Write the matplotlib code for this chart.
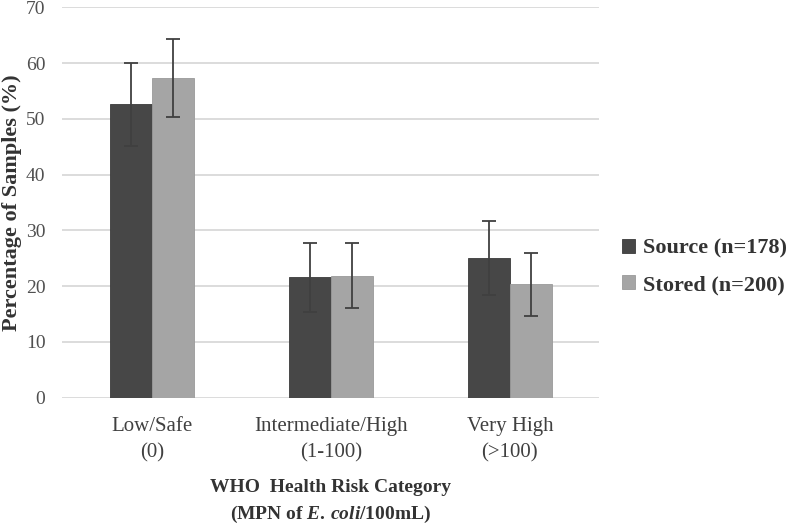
import numpy as np
import matplotlib
matplotlib.use("Agg")
import matplotlib.pyplot as plt

categories = ["Low/Safe\n(0)", "Intermediate/High\n(1-100)", "Very High\n(>100)"]
source_vals = [52.6, 21.6, 25.0]
source_err = [7.4, 6.2, 6.6]
stored_vals = [57.3, 21.9, 20.3]
stored_err = [7.0, 5.8, 5.6]
series_labels = ["Source (n=178)", "Stored (n=200)"]

plt.rcParams['font.family'] = ['Liberation Serif', 'DejaVu Serif']
plt.rcParams['mathtext.fontset'] = 'custom'
plt.rcParams['mathtext.rm'] = 'Liberation Serif:bold'
plt.rcParams['mathtext.it'] = 'Liberation Serif:bold:italic'

fig = plt.figure(figsize=(7.97, 5.25), dpi=100)
ax = fig.add_axes([0.078, 0.2425, 0.674, 0.7435])

x = np.arange(len(categories))
w = 0.235
err_kw = dict(ecolor='#404040', elinewidth=1.3, capsize=5, capthick=1.3)
ax.bar(x - w / 2, source_vals, w, yerr=source_err, color='#474747',
       edgecolor='#3a3a3a', linewidth=0.6, label=series_labels[0], error_kw=err_kw, zorder=3)
ax.bar(x + w / 2, stored_vals, w, yerr=stored_err, color='#a5a5a5',
       edgecolor='#9a9a9a', linewidth=0.6, label=series_labels[1], error_kw=err_kw, zorder=3)

ax.set_xlim(-0.5, 2.5)
ax.set_ylim(0, 70)
ax.set_yticks(range(0, 71, 10))
ax.set_xticks(x)
ax.set_xticklabels(categories, fontsize=15, color='#404040', linespacing=1.5)
ax.tick_params(axis='y', labelsize=14, labelcolor='#505050', length=0, pad=12)
ax.tick_params(axis='x', length=0, pad=14)
ax.grid(axis='y', color='#d9d9d9', linewidth=1.3, zorder=0)
for s in ax.spines.values():
    s.set_visible(False)

ax.set_ylabel("Percentage of Samples (%)", fontsize=16, fontweight='bold', color='#333333')
ax.yaxis.set_label_coords(-0.074, 0.5)
ax.set_xlabel("WHO  Health Risk Category\n(MPN of $\\it{E.\\,coli}$/100mL)", fontsize=14,
              fontweight='bold', color='#333333', labelpad=12, linespacing=1.5)

ax.legend(loc='center left', bbox_to_anchor=(1.005, 0.335), frameon=False,
          prop={'size': 16, 'weight': 'bold'}, handlelength=0.6, handleheight=0.6,
          handletextpad=0.35, labelspacing=0.75, labelcolor='#333333')

fig.savefig("out.png", dpi=100)
